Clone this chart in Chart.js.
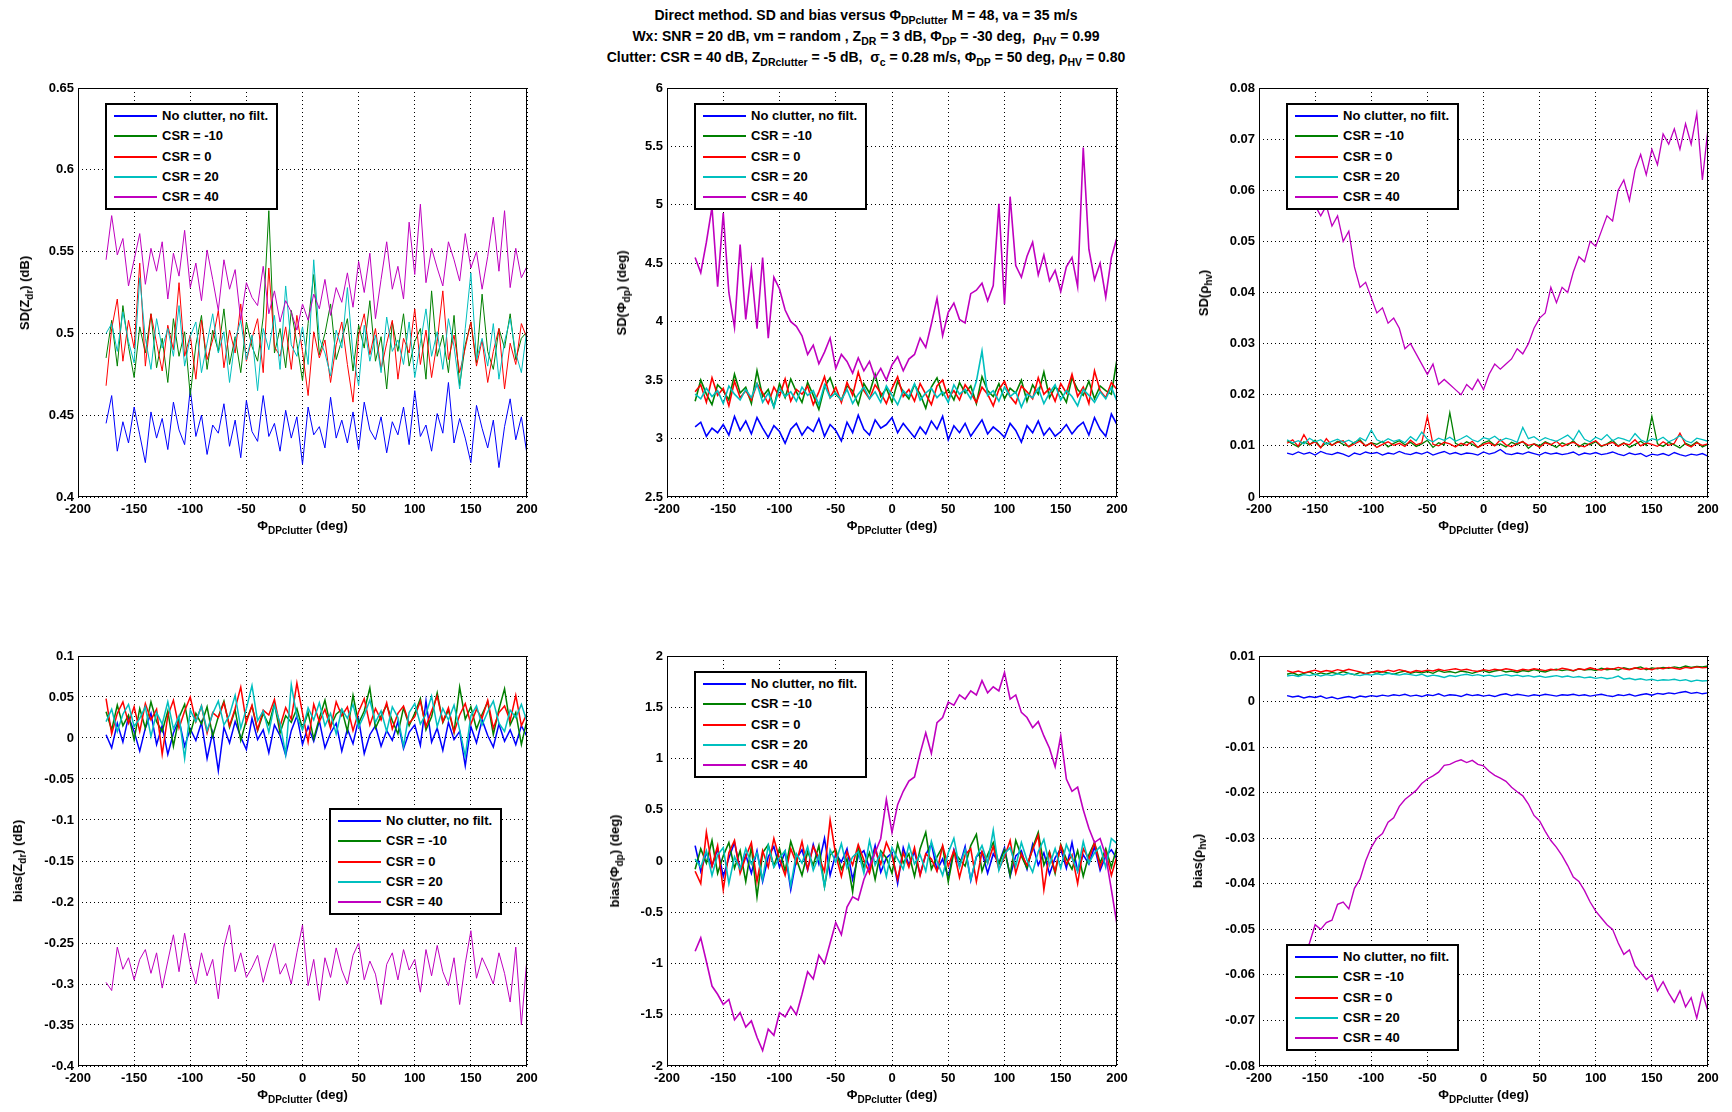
<!DOCTYPE html>
<html>
<head>
<meta charset="utf-8">
<script src="https://cdn.jsdelivr.net/npm/chart.js@4.4.0/dist/chart.umd.min.js"></script>
<style>
  body { margin: 0; width: 1732px; height: 1112px; position: relative; overflow: hidden; background: #fff;
         font-family: "Liberation Sans", Arial, sans-serif; font-weight: bold; font-size: 13px; color: #000; }
  sub { font-size: 10px; vertical-align: -4px; line-height: 0; }
  .ttl { position: absolute; left: 0; width: 1732px; text-align: center; line-height: 16px; white-space: nowrap; font-size: 14px; }
  .ttl sub { font-size: 10.5px; }
  .ylab { position: absolute; white-space: nowrap; line-height: 16px; transform: translate(-50%, -50%) rotate(-90deg); }
  .xlab { position: absolute; white-space: nowrap; line-height: 16px; transform: translate(-50%, -50%); }
  .leg { position: absolute; width: 173px; height: 107px; box-sizing: border-box; border: 2px solid #000; background: #fff; }
  .leg .row { position: absolute; left: 0; height: 20px; line-height: 20px; width: 169px; white-space: nowrap; }
  .leg .ln { position: absolute; left: 7px; width: 43px; top: 9px; height: 2px; }
  .leg .tx { position: absolute; left: 55px; }
</style>
</head>
<body>
<div class="ttl" style="top:7px">Direct method. SD and bias versus &Phi;<sub>DPclutter</sub> M = 48, va = 35 m/s</div>
<div class="ttl" style="top:28px">Wx: SNR = 20 dB, vm = random , Z<sub>DR</sub> = 3 dB, &Phi;<sub>DP</sub> = -30 deg,&nbsp; &rho;<sub>HV</sub> = 0.99</div>
<div class="ttl" style="top:49px">Clutter: CSR = 40 dB, Z<sub>DRclutter</sub> = -5 dB,&nbsp; &sigma;<sub>c</sub> = 0.28 m/s, &Phi;<sub>DP</sub> = 50 deg, &rho;<sub>HV</sub> = 0.80</div>
<script>
// clutter differential phase (deg)
const phiClutter = [
  -175,-170,-165,-160,-155,-150,-145,-140,-135,-130,
  -125,-120,-115,-110,-105,-100,-95,-90,-85,-80,
  -75,-70,-65,-60,-55,-50,-45,-40,-35,-30,
  -25,-20,-15,-10,-5,0,5,10,15,20,
  25,30,35,40,45,50,55,60,65,70,
  75,80,85,90,95,100,105,110,115,120,
  125,130,135,140,145,150,155,160,165,170,
  175,180,185,190,195,200
];

const seriesLabels = ["No clutter, no filt.", "CSR = -10", "CSR = 0", "CSR = 20", "CSR = 40"];
const seriesColors = ["#0000ff", "#008000", "#ff0000", "#00bfbf", "#bf00bf"];

// SD(Zdr) (dB)
const sdZdrNoClutter = [
  0.445,0.462,0.428,0.446,0.433,0.455,0.438,0.421,0.452,0.436,
  0.448,0.429,0.458,0.441,0.432,0.466,0.437,0.450,0.426,0.444,
  0.439,0.457,0.431,0.447,0.424,0.459,0.440,0.434,0.462,0.437,
  0.445,0.428,0.453,0.436,0.449,0.420,0.455,0.438,0.443,0.430,
  0.461,0.436,0.447,0.433,0.452,0.429,0.458,0.441,0.435,0.449,
  0.427,0.446,0.438,0.455,0.432,0.465,0.437,0.444,0.428,0.451,
  0.439,0.470,0.433,0.448,0.436,0.421,0.456,0.442,0.430,0.447,
  0.418,0.443,0.460,0.435,0.449,0.426
];
const sdZdrCsrM10 = [
  0.485,0.508,0.480,0.517,0.492,0.473,0.504,0.488,0.512,0.479,
  0.497,0.470,0.509,0.486,0.501,0.462,0.493,0.511,0.478,0.502,
  0.489,0.515,0.481,0.498,0.476,0.507,0.492,0.483,0.510,0.575,
  0.488,0.503,0.479,0.514,0.494,0.471,0.506,0.536,0.487,0.500,
  0.518,0.484,0.496,0.509,0.477,0.505,0.491,0.520,0.483,0.498,
  0.466,0.507,0.489,0.512,0.480,0.495,0.503,0.472,0.526,0.486,
  0.499,0.476,0.511,0.468,0.493,0.507,0.482,0.524,0.489,0.478,
  0.503,0.491,0.512,0.484,0.497,0.501
];
const sdZdrCsr0 = [
  0.468,0.503,0.521,0.483,0.508,0.491,0.543,0.480,0.512,0.494,
  0.477,0.505,0.490,0.531,0.486,0.499,0.472,0.508,0.484,0.496,
  0.514,0.479,0.502,0.488,0.518,0.483,0.497,0.509,0.476,0.540,
  0.492,0.486,0.504,0.478,0.511,0.489,0.462,0.501,0.485,0.496,
  0.470,0.493,0.507,0.481,0.458,0.499,0.512,0.487,0.503,0.478,
  0.494,0.508,0.472,0.497,0.488,0.515,0.481,0.502,0.473,0.495,
  0.526,0.484,0.499,0.476,0.491,0.507,0.480,0.496,0.470,0.489,
  0.503,0.466,0.494,0.481,0.506,0.497
];
const sdZdrCsr20 = [
  0.500,0.506,0.489,0.513,0.495,0.482,0.534,0.497,0.478,0.509,
  0.491,0.503,0.486,0.517,0.480,0.498,0.507,0.476,0.494,0.512,
  0.488,0.501,0.470,0.496,0.508,0.484,0.499,0.465,0.503,0.490,
  0.511,0.478,0.529,0.493,0.486,0.504,0.481,0.545,0.497,0.488,
  0.474,0.502,0.491,0.528,0.487,0.468,0.505,0.483,0.499,0.476,
  0.510,0.489,0.496,0.481,0.507,0.473,0.494,0.515,0.486,0.501,
  0.478,0.509,0.492,0.466,0.503,0.537,0.484,0.497,0.480,0.506,
  0.472,0.495,0.509,0.488,0.476,0.503
];
const sdZdrCsr40 = [
  0.545,0.572,0.548,0.558,0.529,0.545,0.561,0.530,0.552,0.538,
  0.556,0.521,0.549,0.535,0.563,0.528,0.543,0.520,0.551,0.533,
  0.514,0.545,0.527,0.539,0.508,0.531,0.522,0.517,0.541,0.512,
  0.526,0.507,0.520,0.513,0.502,0.518,0.508,0.524,0.515,0.533,
  0.511,0.528,0.519,0.537,0.516,0.544,0.525,0.549,0.509,0.533,
  0.556,0.527,0.541,0.521,0.568,0.536,0.579,0.531,0.552,0.540,
  0.529,0.556,0.545,0.532,0.561,0.540,0.550,0.527,0.547,0.571,
  0.538,0.575,0.528,0.552,0.534,0.541
];

// SD(Phidp) (deg)
const sdPhiNoClutter = [
  3.10,3.14,3.02,3.09,3.05,3.12,3.03,3.19,3.07,3.15,
  3.04,3.18,3.09,3.01,3.11,3.06,2.96,3.08,3.13,3.03,
  3.10,3.06,3.17,3.02,3.12,3.07,2.98,3.14,3.05,3.20,
  3.08,3.03,3.16,3.09,3.12,3.18,3.05,3.13,3.07,3.01,
  3.10,3.04,3.15,3.08,3.19,2.99,3.11,3.05,3.13,3.02,
  3.09,3.16,3.04,3.10,3.06,3.01,3.13,3.07,2.97,3.11,
  3.05,3.15,3.03,3.09,3.02,3.06,3.12,3.04,3.10,3.14,
  3.03,3.18,3.08,3.02,3.21,3.12
];
const sdPhiCsrM10 = [
  3.32,3.50,3.38,3.29,3.46,3.41,3.33,3.55,3.39,3.44,
  3.30,3.58,3.36,3.42,3.27,3.47,3.35,3.51,3.40,3.31,
  3.48,3.37,3.25,3.44,3.52,3.38,3.33,3.45,3.41,3.29,
  3.47,3.39,3.55,3.36,3.43,3.31,3.49,3.40,3.34,3.46,
  3.38,3.26,3.44,3.52,3.37,3.42,3.33,3.48,3.39,3.45,
  3.30,3.53,3.41,3.36,3.47,3.34,3.43,3.39,3.50,3.32,
  3.46,3.38,3.57,3.35,3.44,3.40,3.31,3.52,3.42,3.37,
  3.49,3.34,3.45,3.41,3.38,3.68
];
const sdPhiCsr0 = [
  3.40,3.46,3.31,3.52,3.37,3.43,3.28,3.49,3.35,3.41,
  3.33,3.47,3.39,3.30,3.44,3.36,3.51,3.32,3.42,3.38,
  3.45,3.29,3.40,3.53,3.35,3.44,3.31,3.48,3.37,3.57,
  3.41,3.34,3.46,3.39,3.30,3.43,3.53,3.36,3.42,3.32,
  3.47,3.38,3.29,3.45,3.50,3.35,3.41,3.33,3.46,3.39,
  3.31,3.44,3.38,3.28,3.42,3.49,3.36,3.30,3.45,3.40,
  3.34,3.52,3.38,3.43,3.32,3.47,3.39,3.55,3.36,3.44,
  3.30,3.58,3.41,3.35,3.48,3.42
];
const sdPhiCsr20 = [
  3.38,3.34,3.43,3.36,3.41,3.30,3.45,3.38,3.33,3.42,
  3.35,3.47,3.31,3.39,3.27,3.43,3.36,3.40,3.32,3.44,
  3.37,3.41,3.29,3.46,3.35,3.39,3.33,3.42,3.30,3.38,
  3.44,3.34,3.40,3.31,3.45,3.37,3.29,3.41,3.36,3.47,
  3.33,3.39,3.43,3.35,3.40,3.31,3.46,3.38,3.42,3.34,
  3.49,3.75,3.37,3.41,3.32,3.44,3.36,3.40,3.27,3.38,
  3.35,3.43,3.30,3.39,3.46,3.33,3.41,3.36,3.28,3.42,
  3.37,3.31,3.40,3.34,3.44,3.32
];
const sdPhiCsr40 = [
  4.55,4.42,4.68,4.98,4.30,4.93,4.25,3.95,4.66,4.02,
  4.45,3.94,4.55,3.86,4.38,4.28,4.10,4.00,3.96,3.88,
  3.72,3.80,3.64,3.74,3.86,3.60,3.72,3.66,3.56,3.69,
  3.58,3.66,3.52,3.60,3.50,3.63,3.70,3.58,3.68,3.72,
  3.86,3.78,3.98,4.20,3.88,4.08,4.16,4.02,3.99,4.24,
  4.27,4.33,4.18,4.31,5.01,4.15,5.07,4.48,4.38,4.56,
  4.68,4.40,4.57,4.35,4.44,4.26,4.47,4.55,4.30,5.49,
  4.62,4.36,4.50,4.21,4.55,4.72
];

// SD(rhohv)
const sdRhoNoClutter = [
  0.0086,0.0083,0.0088,0.0084,0.0087,0.0082,0.0089,0.0085,0.0083,0.0087,
  0.0084,0.0079,0.0086,0.0083,0.0088,0.0085,0.0087,0.0082,0.0086,0.0084,
  0.0089,0.0085,0.0083,0.0087,0.0084,0.0088,0.0082,0.0086,0.0089,0.0084,
  0.0087,0.0083,0.0086,0.0085,0.0082,0.0088,0.0084,0.0087,0.0093,0.0085,
  0.0083,0.0086,0.0084,0.0088,0.0085,0.0082,0.0087,0.0084,0.0086,0.0083,
  0.0085,0.0088,0.0082,0.0086,0.0084,0.0087,0.0083,0.0085,0.0088,0.0084,
  0.0081,0.0086,0.0083,0.0085,0.0079,0.0084,0.0082,0.0085,0.0081,0.0087,
  0.0083,0.0080,0.0084,0.0082,0.0085,0.0080
];
const sdRhoCsrM10 = [
  0.0110,0.0104,0.0098,0.0108,0.0102,0.0111,0.0097,0.0106,0.0101,0.0109,
  0.0103,0.0099,0.0107,0.0112,0.0100,0.0106,0.0103,0.0109,0.0098,0.0105,
  0.0110,0.0102,0.0107,0.0099,0.0104,0.0111,0.0097,0.0106,0.0102,0.0165,
  0.0105,0.0100,0.0108,0.0103,0.0097,0.0106,0.0110,0.0101,0.0104,0.0098,
  0.0107,0.0102,0.0109,0.0095,0.0104,0.0100,0.0108,0.0103,0.0097,0.0106,
  0.0101,0.0110,0.0098,0.0105,0.0102,0.0108,0.0099,0.0104,0.0111,0.0100,
  0.0106,0.0097,0.0103,0.0109,0.0101,0.0158,0.0104,0.0099,0.0107,0.0102,
  0.0096,0.0105,0.0100,0.0108,0.0098,0.0103
];
const sdRhoCsr0 = [
  0.0105,0.0112,0.0099,0.0122,0.0103,0.0108,0.0096,0.0114,0.0101,0.0107,
  0.0110,0.0098,0.0104,0.0109,0.0100,0.0106,0.0097,0.0103,0.0108,0.0101,
  0.0105,0.0099,0.0111,0.0102,0.0106,0.0158,0.0103,0.0100,0.0107,0.0104,
  0.0098,0.0105,0.0101,0.0109,0.0097,0.0103,0.0106,0.0100,0.0112,0.0102,
  0.0098,0.0105,0.0108,0.0101,0.0104,0.0097,0.0106,0.0102,0.0109,0.0099,
  0.0104,0.0107,0.0101,0.0098,0.0105,0.0110,0.0100,0.0103,0.0107,0.0099,
  0.0105,0.0102,0.0112,0.0100,0.0106,0.0103,0.0099,0.0108,0.0101,0.0105,
  0.0125,0.0103,0.0098,0.0106,0.0101,0.0104
];
const sdRhoCsr20 = [
  0.0112,0.0106,0.0110,0.0104,0.0115,0.0108,0.0112,0.0103,0.0109,0.0113,
  0.0107,0.0111,0.0105,0.0116,0.0110,0.0131,0.0112,0.0107,0.0114,0.0109,
  0.0112,0.0106,0.0118,0.0110,0.0127,0.0113,0.0108,0.0115,0.0111,0.0117,
  0.0109,0.0114,0.0120,0.0112,0.0108,0.0116,0.0113,0.0119,0.0110,0.0115,
  0.0112,0.0107,0.0136,0.0114,0.0118,0.0110,0.0116,0.0112,0.0109,0.0115,
  0.0121,0.0111,0.0130,0.0113,0.0108,0.0117,0.0112,0.0122,0.0110,0.0116,
  0.0113,0.0109,0.0124,0.0112,0.0107,0.0114,0.0111,0.0117,0.0108,0.0113,
  0.0120,0.0110,0.0106,0.0115,0.0112,0.0109
];
const sdRhoCsr40 = [
  0.066,0.072,0.068,0.064,0.060,0.057,0.055,0.057,0.053,0.055,
  0.050,0.052,0.045,0.041,0.042,0.039,0.036,0.037,0.034,0.035,
  0.033,0.029,0.030,0.028,0.026,0.024,0.026,0.022,0.023,0.022,
  0.021,0.020,0.022,0.021,0.023,0.021,0.024,0.026,0.025,0.026,
  0.027,0.029,0.028,0.030,0.033,0.035,0.036,0.041,0.038,0.041,
  0.040,0.044,0.047,0.046,0.050,0.049,0.052,0.055,0.054,0.060,
  0.062,0.058,0.064,0.067,0.063,0.068,0.065,0.071,0.069,0.072,
  0.068,0.073,0.069,0.075,0.062,0.072
];

// bias(Zdr) (dB)
const biasZdrNoClutter = [
  0.004,-0.012,0.018,-0.005,0.026,0.008,-0.016,0.012,0.030,-0.008,
  0.015,-0.020,0.006,0.022,-0.010,0.011,-0.003,0.019,-0.025,0.007,
  -0.040,0.013,-0.006,0.020,0.001,-0.014,0.024,-0.002,0.010,-0.018,
  0.016,0.003,-0.021,0.009,0.027,-0.008,0.014,-0.004,0.021,-0.012,
  0.006,0.018,-0.016,0.011,-0.007,0.023,-0.019,0.004,0.015,-0.010,
  0.009,-0.003,0.020,-0.013,0.007,0.016,-0.009,0.045,-0.005,0.012,
  -0.015,0.019,-0.002,0.008,-0.034,0.014,-0.006,0.022,0.003,-0.011,
  0.017,-0.004,0.010,-0.008,0.015,0.002
];
const biasZdrCsrM10 = [
  0.032,0.010,0.040,0.015,0.028,-0.002,0.036,0.012,0.044,0.020,
  0.008,0.033,-0.010,0.025,0.041,0.005,0.030,0.017,0.038,0.002,
  0.026,0.045,0.013,0.034,-0.003,0.022,0.039,0.009,0.030,0.016,
  0.042,0.006,0.027,0.019,0.036,0.011,0.031,-0.001,0.024,0.046,
  0.014,0.029,0.035,0.008,0.052,0.018,0.033,0.061,0.012,0.027,
  0.040,0.021,0.005,0.037,0.015,0.030,0.048,0.010,0.026,0.055,
  0.019,0.034,0.007,0.062,0.023,0.038,0.011,0.029,0.044,0.004,
  0.035,0.060,0.016,0.031,-0.008,0.022
];
const biasZdrCsr0 = [
  0.048,0.005,0.030,0.044,0.018,0.038,0.008,0.042,0.022,0.035,
  -0.020,0.027,0.046,0.012,0.033,0.050,0.020,0.039,0.006,0.031,
  0.025,0.043,0.015,0.036,0.062,0.019,0.040,0.010,0.034,0.028,
  0.047,0.014,0.037,0.023,0.067,0.030,-0.005,0.041,0.020,0.035,
  0.012,0.044,0.027,0.038,0.009,0.032,0.048,0.016,0.036,0.022,
  0.043,0.011,0.030,0.039,0.018,0.026,0.045,0.014,0.033,0.051,
  0.020,0.037,0.007,0.028,0.042,0.017,0.035,0.024,0.046,0.012,
  0.031,0.039,0.021,0.052,0.015,0.030
];
const biasZdrCsr20 = [
  0.020,0.035,0.008,0.029,0.041,0.014,0.024,0.038,0.002,0.031,
  0.017,0.044,0.011,0.027,-0.025,0.034,0.020,0.039,0.009,0.030,
  0.045,0.016,0.028,0.052,0.012,0.036,0.064,0.021,0.033,0.007,
  0.040,0.018,-0.020,0.065,0.026,0.010,0.037,0.022,0.043,0.015,
  0.030,0.005,0.035,0.024,0.041,0.013,0.028,0.046,0.019,0.033,
  0.008,0.038,0.025,-0.010,0.031,0.042,0.017,0.029,0.051,0.014,
  0.036,0.022,0.040,0.010,-0.022,0.027,0.039,0.016,0.032,0.045,
  0.018,0.008,0.034,0.025,0.041,0.020
];
const biasZdrCsr40 = [
  -0.298,-0.308,-0.255,-0.282,-0.268,-0.295,-0.270,-0.258,-0.287,-0.262,
  -0.305,-0.272,-0.240,-0.285,-0.238,-0.276,-0.300,-0.262,-0.290,-0.270,
  -0.318,-0.255,-0.228,-0.285,-0.262,-0.292,-0.280,-0.265,-0.298,-0.272,
  -0.250,-0.288,-0.275,-0.300,-0.262,-0.228,-0.302,-0.270,-0.320,-0.268,
  -0.292,-0.256,-0.283,-0.300,-0.265,-0.250,-0.295,-0.272,-0.288,-0.325,
  -0.276,-0.262,-0.295,-0.258,-0.283,-0.270,-0.310,-0.258,-0.290,-0.253,
  -0.285,-0.302,-0.268,-0.325,-0.275,-0.235,-0.293,-0.268,-0.283,-0.300,
  -0.262,-0.287,-0.322,-0.255,-0.350,-0.268
];

// bias(Phidp) (deg)
const biasPhiNoClutter = [
  0.15,-0.10,0.08,-0.05,0.12,-0.15,0.03,0.18,-0.08,0.06,
  -0.12,0.10,-0.20,0.04,0.14,-0.06,0.09,-0.28,0.02,0.11,
  -0.09,0.16,-0.03,0.22,-0.14,0.07,-0.01,0.12,-0.18,0.05,
  0.10,-0.07,0.15,-0.11,0.03,0.08,-0.22,0.13,-0.04,0.09,
  -0.13,0.06,0.17,-0.09,0.02,-0.16,0.11,-0.05,0.14,-0.19,
  0.04,0.09,-0.12,0.07,-0.02,0.13,-0.15,0.05,0.10,-0.08,
  0.16,-0.04,0.08,-0.13,0.03,0.12,-0.07,0.18,-0.10,0.06,
  -0.03,0.14,-0.09,0.05,0.11,0.02
];
const biasPhiCsrM10 = [
  -0.08,0.12,-0.02,0.20,-0.12,0.05,0.18,-0.07,0.10,-0.20,
  0.14,-0.35,0.08,0.16,-0.05,0.12,-0.10,0.19,0.02,-0.14,
  0.09,-0.04,0.15,-0.25,0.06,0.11,-0.08,0.02,-0.30,0.13,
  -0.06,0.08,-0.18,0.10,0.03,-0.12,0.17,-0.02,0.07,-0.15,
  0.12,0.28,-0.08,0.04,0.14,-0.20,0.09,0.02,-0.05,0.15,
  0.26,-0.10,0.06,0.18,-0.03,0.11,-0.14,0.20,0.05,-0.07,
  0.13,0.28,-0.04,0.09,-0.12,0.16,0.02,-0.08,0.10,-0.15,
  0.06,0.18,-0.02,0.12,-0.06,0.14
];
const biasPhiCsr0 = [
  -0.10,-0.22,0.28,-0.05,0.15,-0.28,0.08,0.20,-0.12,0.04,
  0.18,-0.20,0.10,-0.06,0.22,0.02,-0.14,0.12,-0.02,0.19,
  -0.08,0.14,0.03,-0.10,0.40,0.06,-0.15,0.09,-0.04,0.16,
  0.01,-0.12,0.11,-0.03,0.18,0.05,-0.18,0.08,-0.06,0.13,
  -0.14,0.07,0.02,-0.10,0.15,-0.05,0.10,-0.16,0.06,0.12,
  -0.20,0.09,-0.02,0.14,-0.08,0.04,0.20,-0.12,0.07,-0.04,
  0.11,0.25,-0.28,0.08,-0.10,0.15,-0.03,0.06,-0.22,0.12,
  0.02,0.18,-0.06,0.09,-0.14,0.05
];
const biasPhiCsr20 = [
  0.02,-0.06,0.10,-0.14,0.06,0.13,-0.22,0.04,-0.08,0.12,
  -0.03,0.08,-0.18,0.15,-0.06,0.03,0.10,-0.24,0.07,-0.02,
  0.14,-0.09,0.05,-0.25,0.11,-0.01,0.17,-0.07,0.04,0.09,
  -0.12,0.20,-0.04,0.08,-0.15,0.13,0.02,-0.08,0.16,-0.03,
  0.06,-0.10,0.19,0.00,-0.14,0.08,0.22,-0.06,0.11,-0.18,
  0.04,0.15,-0.02,0.30,-0.09,0.07,0.13,-0.05,0.18,0.01,
  -0.11,0.09,0.21,-0.04,0.12,-0.07,0.16,0.03,-0.10,0.19,
  -0.02,0.08,0.14,-0.06,0.22,0.17
];
const biasPhiCsr40 = [
  -0.88,-0.75,-0.98,-1.22,-1.30,-1.40,-1.35,-1.55,-1.48,-1.62,
  -1.56,-1.72,-1.85,-1.64,-1.70,-1.48,-1.52,-1.42,-1.50,-1.30,
  -1.08,-1.15,-0.92,-1.00,-0.80,-0.60,-0.72,-0.45,-0.35,-0.38,
  -0.18,-0.05,0.08,0.22,0.60,0.28,0.55,0.68,0.78,0.82,
  1.05,1.25,1.05,1.35,1.40,1.55,1.52,1.62,1.58,1.66,
  1.62,1.76,1.64,1.70,1.66,1.84,1.58,1.62,1.45,1.40,
  1.30,1.36,1.22,1.10,0.92,1.22,0.80,0.68,0.72,0.50,
  0.32,0.18,0.22,0.05,-0.28,-0.62
];

// bias(rhohv)
const biasRhoNoClutter = [
  0.0013,0.0010,0.0012,0.0008,0.0011,0.0009,0.0012,0.0007,0.0010,0.0006,
  0.0009,0.0011,0.0008,0.0012,0.0010,0.0013,0.0011,0.0014,0.0012,0.0015,
  0.0013,0.0016,0.0012,0.0014,0.0011,0.0015,0.0013,0.0017,0.0012,0.0015,
  0.0014,0.0011,0.0016,0.0013,0.0015,0.0012,0.0014,0.0011,0.0015,0.0017,
  0.0013,0.0016,0.0014,0.0012,0.0015,0.0013,0.0016,0.0014,0.0012,0.0015,
  0.0014,0.0016,0.0013,0.0015,0.0012,0.0014,0.0016,0.0013,0.0011,0.0015,
  0.0013,0.0016,0.0012,0.0015,0.0017,0.0014,0.0018,0.0016,0.0019,0.0017,
  0.0020,0.0022,0.0018,0.0020,0.0017,0.0019
];
const biasRhoCsrM10 = [
  0.0060,0.0063,0.0058,0.0062,0.0065,0.0059,0.0063,0.0060,0.0064,0.0061,
  0.0066,0.0062,0.0059,0.0064,0.0061,0.0065,0.0062,0.0066,0.0063,0.0060,
  0.0064,0.0067,0.0062,0.0065,0.0063,0.0066,0.0062,0.0068,0.0064,0.0066,
  0.0063,0.0067,0.0065,0.0062,0.0066,0.0068,0.0064,0.0067,0.0069,0.0065,
  0.0067,0.0064,0.0068,0.0066,0.0070,0.0067,0.0065,0.0069,0.0071,0.0068,
  0.0070,0.0067,0.0072,0.0069,0.0071,0.0068,0.0073,0.0070,0.0072,0.0069,
  0.0074,0.0071,0.0073,0.0076,0.0070,0.0074,0.0072,0.0075,0.0073,0.0076,
  0.0074,0.0078,0.0075,0.0077,0.0076,0.0078
];
const biasRhoCsr0 = [
  0.0068,0.0064,0.0067,0.0063,0.0066,0.0069,0.0065,0.0068,0.0066,0.0070,
  0.0067,0.0071,0.0068,0.0065,0.0061,0.0064,0.0067,0.0065,0.0069,0.0066,
  0.0070,0.0067,0.0064,0.0068,0.0066,0.0069,0.0067,0.0071,0.0068,0.0070,
  0.0072,0.0069,0.0071,0.0068,0.0066,0.0070,0.0068,0.0071,0.0069,0.0072,
  0.0070,0.0067,0.0071,0.0069,0.0072,0.0070,0.0068,0.0071,0.0069,0.0073,
  0.0071,0.0068,0.0072,0.0070,0.0074,0.0071,0.0069,0.0073,0.0071,0.0075,
  0.0072,0.0070,0.0074,0.0071,0.0073,0.0070,0.0074,0.0072,0.0075,0.0073,
  0.0071,0.0075,0.0073,0.0076,0.0074,0.0075
];
const biasRhoCsr20 = [
  0.0056,0.0058,0.0055,0.0059,0.0057,0.0060,0.0056,0.0059,0.0057,0.0061,
  0.0058,0.0062,0.0059,0.0057,0.0060,0.0058,0.0061,0.0059,0.0062,0.0060,
  0.0058,0.0061,0.0059,0.0057,0.0060,0.0055,0.0058,0.0056,0.0053,0.0057,
  0.0055,0.0058,0.0060,0.0057,0.0059,0.0056,0.0058,0.0055,0.0057,0.0059,
  0.0056,0.0058,0.0055,0.0057,0.0054,0.0056,0.0053,0.0055,0.0057,0.0054,
  0.0056,0.0053,0.0055,0.0052,0.0054,0.0051,0.0053,0.0050,0.0052,0.0056,
  0.0049,0.0051,0.0048,0.0050,0.0047,0.0049,0.0046,0.0048,0.0047,0.0049,
  0.0046,0.0048,0.0044,0.0047,0.0045,0.0046
];
const biasRhoCsr40 = [
  -0.0610,-0.0640,-0.0600,-0.0560,-0.0530,-0.0490,-0.0500,-0.0485,-0.0480,-0.0445,
  -0.0440,-0.0455,-0.0410,-0.0390,-0.0350,-0.0320,-0.0300,-0.0290,-0.0265,-0.0255,
  -0.0230,-0.0215,-0.0205,-0.0195,-0.0180,-0.0170,-0.0163,-0.0155,-0.0140,-0.0138,
  -0.0132,-0.0128,-0.0134,-0.0129,-0.0138,-0.0141,-0.0153,-0.0162,-0.0168,-0.0175,
  -0.0188,-0.0198,-0.0207,-0.0225,-0.0250,-0.0262,-0.0285,-0.0305,-0.0320,-0.0338,
  -0.0360,-0.0385,-0.0395,-0.0415,-0.0440,-0.0460,-0.0475,-0.0490,-0.0500,-0.0530,
  -0.0555,-0.0545,-0.0580,-0.0595,-0.0610,-0.0600,-0.0635,-0.0615,-0.0640,-0.0660,
  -0.0635,-0.0670,-0.0650,-0.0695,-0.0640,-0.0680
];

// one entry per subplot: plot box, y range, labels, legend spot
const panels = [
  { L: 78, T: 88, W: 449, H: 409, min: 0.4, max: 0.65, step: 0.05, ylab: "SD(Z<sub>dr</sub>) (dB)", ylabX: 25,
    legX: 105, legY: 103, lw: [1, 1, 1, 1, 1],
    data: [sdZdrNoClutter, sdZdrCsrM10, sdZdrCsr0, sdZdrCsr20, sdZdrCsr40] },
  { L: 667, T: 88, W: 450, H: 409, min: 2.5, max: 6, step: 0.5, ylab: "SD(&Phi;<sub>dp</sub>) (deg)", ylabX: 622,
    legX: 694, legY: 103, lw: [1.6, 1.6, 1.6, 1.6, 1.6],
    data: [sdPhiNoClutter, sdPhiCsrM10, sdPhiCsr0, sdPhiCsr20, sdPhiCsr40] },
  { L: 1259, T: 88, W: 449, H: 409, min: 0, max: 0.08, step: 0.01, ylab: "SD(&rho;<sub>hv</sub>)", ylabX: 1204,
    legX: 1286, legY: 103, lw: [1.3, 1.3, 1.3, 1.3, 1.3],
    data: [sdRhoNoClutter, sdRhoCsrM10, sdRhoCsr0, sdRhoCsr20, sdRhoCsr40] },
  { L: 78, T: 656, W: 449, H: 410, min: -0.4, max: 0.1, step: 0.05, ylab: "bias(Z<sub>dr</sub>) (dB)", ylabX: 18,
    legX: 329, legY: 808, lw: [1.5, 1.5, 1.5, 1.5, 1],
    data: [biasZdrNoClutter, biasZdrCsrM10, biasZdrCsr0, biasZdrCsr20, biasZdrCsr40] },
  { L: 667, T: 656, W: 450, H: 410, min: -2, max: 2, step: 0.5, ylab: "bias(&Phi;<sub>dp</sub>) (deg)", ylabX: 615,
    legX: 694, legY: 671, lw: [1.6, 1.6, 1.6, 1.6, 1.6],
    data: [biasPhiNoClutter, biasPhiCsrM10, biasPhiCsr0, biasPhiCsr20, biasPhiCsr40] },
  { L: 1259, T: 656, W: 449, H: 410, min: -0.08, max: 0.01, step: 0.01, ylab: "bias(&rho;<sub>hv</sub>)", ylabX: 1198,
    legX: 1286, legY: 944, lw: [1.4, 1.4, 1.4, 1.4, 1.4],
    data: [biasRhoNoClutter, biasRhoCsrM10, biasRhoCsr0, biasRhoCsr20, biasRhoCsr40] }
];

Chart.defaults.font.family = '"Liberation Sans", Arial, sans-serif';
const tickFont = { size: 13, weight: "bold" };

// solid axes box drawn over the data, like matlab
const boxPlugin = {
  id: "box",
  afterDraw(chart) {
    const { ctx, chartArea: a } = chart;
    ctx.save();
    ctx.setLineDash([]);
    ctx.strokeStyle = "#000";
    ctx.lineWidth = 1;
    ctx.strokeRect(Math.round(a.left) + 0.5, Math.round(a.top) + 0.5,
                   Math.round(a.right - a.left) - 1, Math.round(a.bottom - a.top) - 1);
    ctx.restore();
  }
};

const PADL = 70, PADT = 12, PADR = 28, PADB = 28;

function addDiv(cls, style, html) {
  const d = document.createElement("div");
  d.className = cls;
  d.style.cssText = style;
  d.innerHTML = html;
  document.body.appendChild(d);
  return d;
}

panels.forEach(p => {
  const cv = document.createElement("canvas");
  cv.width = p.W + PADL + PADR;
  cv.height = p.H + PADT + PADB;
  cv.style.cssText = `position:absolute;left:${p.L - PADL}px;top:${p.T - PADT}px;width:${cv.width}px;height:${cv.height}px`;
  document.body.appendChild(cv);

  const gridOpts = { color: "#000", lineWidth: 1, drawTicks: false };
  const borderOpts = { display: false, dash: [1, 3] };

  new Chart(cv, {
    type: "line",
    data: {
      datasets: p.data.map((arr, i) => ({
        label: seriesLabels[i],
        data: phiClutter.map((x, k) => ({ x: x, y: arr[k] })),
        borderColor: seriesColors[i],
        borderWidth: p.lw[i],
        pointRadius: 0,
        tension: 0,
        fill: false,
        order: 4 - i
      }))
    },
    options: {
      responsive: false,
      devicePixelRatio: 1,
      animation: false,
      events: [],
      layout: { padding: { left: 0, top: PADT, right: PADR, bottom: 0 } },
      plugins: { legend: { display: false }, tooltip: { enabled: false } },
      scales: {
        x: {
          type: "linear", min: -200, max: 200,
          ticks: { stepSize: 50, padding: 5, color: "#000", font: tickFont, maxRotation: 0, autoSkip: false },
          grid: gridOpts, border: borderOpts,
          afterFit(s) { s.height = PADB; }
        },
        y: {
          type: "linear", min: p.min, max: p.max,
          ticks: { stepSize: p.step, padding: 4, color: "#000", font: tickFont, autoSkip: false,
                   callback: v => String(+v.toFixed(4)) },
          grid: gridOpts, border: borderOpts,
          afterFit(s) { s.width = PADL; }
        }
      }
    },
    plugins: [boxPlugin]
  });

  // axis labels
  addDiv("ylab", `left:${p.ylabX}px;top:${p.T + p.H / 2}px`, p.ylab);
  addDiv("xlab", `left:${p.L + p.W / 2}px;top:${p.T + p.H + 29}px`, "&Phi;<sub>DPclutter</sub> (deg)");

  // legend box
  const leg = addDiv("leg", `left:${p.legX}px;top:${p.legY}px`, "");
  seriesLabels.forEach((lab, i) => {
    const row = document.createElement("div");
    row.className = "row";
    row.style.top = Math.round(1 + i * 20.3) + "px";
    row.innerHTML = `<span class="ln" style="background:${seriesColors[i]}"></span><span class="tx">${lab}</span>`;
    leg.appendChild(row);
  });
});
</script>
</body>
</html>
